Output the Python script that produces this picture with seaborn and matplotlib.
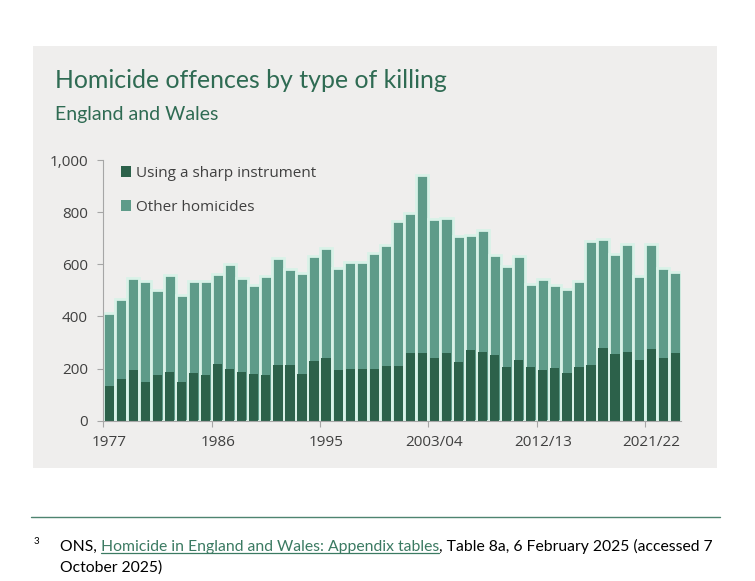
import matplotlib
matplotlib.use("Agg")
import matplotlib.pyplot as plt
from matplotlib.patches import Rectangle
from matplotlib.lines import Line2D
from matplotlib.ticker import FuncFormatter, FixedLocator
import seaborn as sns
import pandas as pd

years = ["1977", "1978", "1979", "1980", "1981", "1982", "1983", "1984", "1985",
         "1986", "1987", "1988", "1989", "1990", "1991", "1992", "1993", "1994",
         "1995", "1996", "1997", "1997/98", "1998/99", "1999/00", "2000/01",
         "2001/02", "2002/03", "2003/04", "2004/05", "2005/06", "2006/07",
         "2007/08", "2008/09", "2009/10", "2010/11", "2011/12", "2012/13",
         "2013/14", "2014/15", "2015/16", "2016/17", "2017/18", "2018/19",
         "2019/20", "2020/21", "2021/22", "2022/23", "2023/24"]
sharp = [133, 160, 193, 148, 175, 188, 148, 184, 177, 218, 198, 187, 179, 175,
         214, 215, 179, 230, 241, 195, 198, 198, 198, 210, 210, 260, 260, 241,
         260, 224, 270, 265, 252, 206, 233, 206, 193, 201, 183, 206, 214, 279,
         256, 264, 233, 275, 241, 260]
other = [280, 307, 356, 388, 325, 370, 334, 353, 359, 345, 402, 361, 343, 380,
         410, 366, 387, 403, 422, 392, 411, 411, 444, 463, 555, 535, 683, 532,
         519, 485, 441, 466, 385, 386, 399, 319, 350, 319, 321, 331, 476, 418,
         385, 412, 322, 401, 344, 311]
tick_labels = ["1977", "1986", "1995", "2003/04", "2012/13", "2021/22"]
series_names = ["Using a sharp instrument", "Other homicides"]

DARK = "#2c614a"
LIGHT = "#5e9b89"
MINT = "#d9f2e8"
PANEL = "#efeeed"
GREEN_TXT = "#2f6b53"
GREY_TXT = "#404040"
AXIS_GREY = "#a6a6a6"

sns.set_style("white")
plt.rcParams["font.family"] = ["Open Sans", "DejaVu Sans"]

df = pd.DataFrame({"year": years, "sharp": sharp, "other": other})
df["total"] = df["sharp"] + df["other"]

W, H = 755, 581
fig = plt.figure(figsize=(W / 100, H / 100), dpi=100)
fig.patch.set_facecolor("white")

# grey panel (behind everything)
fig.patches.append(Rectangle((33 / W, 1 - 468 / H), 684 / W, 422 / H,
                             transform=fig.transFigure, facecolor=PANEL,
                             edgecolor="none", zorder=-10))

ax = fig.add_axes([103.3 / W, 1 - 420.7 / H, 578 / W, 260.7 / H])
ax.set_facecolor("none")
ax.set_zorder(1)

sns.barplot(data=df, x="year", y="total", color=LIGHT, saturation=1,
            width=1.0, edgecolor=MINT, linewidth=2.0, ax=ax,
            label=series_names[1], order=years)
sns.barplot(data=df, x="year", y="sharp", color=DARK, saturation=1,
            width=0.765, linewidth=0, ax=ax,
            label=series_names[0], order=years)

ax.set_xlim(-0.5, len(years) - 0.5)
ax.set_ylim(0, 1000)
ax.set_xlabel("")
ax.set_ylabel("")

# y axis
ax.set_yticks([0, 200, 400, 600, 800, 1000])
ax.yaxis.set_major_formatter(FuncFormatter(lambda v, p: f"{int(v):,}"))
ax.tick_params(axis="y", direction="out", length=4, width=0.8,
               color=AXIS_GREY, labelcolor=GREY_TXT, labelsize=11, pad=7,
               left=True)

# x axis: ticks at boundaries, labels centred on bars
idx = [years.index(t) for t in tick_labels]
ax.xaxis.set_major_locator(FixedLocator([i - 0.5 for i in idx]))
ax.xaxis.set_major_formatter(FuncFormatter(lambda v, p: ""))
ax.xaxis.set_minor_locator(FixedLocator(idx))
ax.set_xticklabels(tick_labels, minor=True)
ax.tick_params(axis="x", which="major", direction="out", length=4, width=0.8,
               color=AXIS_GREY, bottom=True)
ax.tick_params(axis="x", which="minor", length=0, labelsize=11,
               labelcolor=GREY_TXT, pad=10)

for s in ["top", "right"]:
    ax.spines[s].set_visible(False)
for s in ["left", "bottom"]:
    ax.spines[s].set_color(AXIS_GREY)
    ax.spines[s].set_linewidth(0.8)

handles, labels = ax.get_legend_handles_labels()
order = [labels.index(series_names[0]), labels.index(series_names[1])]
leg = ax.legend([handles[i] for i in order], [labels[i] for i in order],
                loc="upper left", bbox_to_anchor=(0.03, 0.978), frameon=False,
                handlelength=0.68, handleheight=0.68, handletextpad=0.3,
                labelspacing=1.25, fontsize=11, labelcolor=GREY_TXT,
                borderaxespad=0, borderpad=0)
for h in leg.legend_handles:
    h.set_edgecolor("none")
    h.set_linewidth(0)

# titles
TF = ["Lato", "DejaVu Sans"]
fig.text(55 / W, 1 - 88 / H, "Homicide offences by type of killing",
         family=TF, fontsize=17.9, color=GREEN_TXT, va="baseline", ha="left")
fig.text(55 / W, 1 - 120 / H, "England and Wales",
         family=TF, fontsize=14, color=GREEN_TXT, va="baseline", ha="left")

# footer rule
fig.add_artist(Line2D([31 / W, 720 / W], [1 - 517.3 / H, 1 - 517.3 / H],
                      transform=fig.transFigure, color="#4e8470", lw=1.0))

# footnote
FN = ["Lato", "DejaVu Sans"]
FS = 11.3
fig.text(34 / W, 1 - 544 / H, "3", family=FN, fontsize=7, color="black",
         va="baseline")
fig.canvas.draw()
r = fig.canvas.get_renderer()
y1 = 1 - 550.7 / H
t1 = fig.text(60 / W, y1, "ONS, ", family=FN, fontsize=FS, color="black",
              va="baseline")
bb1 = t1.get_window_extent(r)
t2 = fig.text(bb1.x1 / W, y1, "Homicide in England and Wales: Appendix tables",
              family=FN, fontsize=FS, color="#3b7a62", va="baseline")
bb2 = t2.get_window_extent(r)
fig.add_artist(Line2D([bb2.x0 / W, bb2.x1 / W], [1 - 552.5 / H, 1 - 552.5 / H],
                      transform=fig.transFigure, color="#3b7a62", lw=0.9))
fig.text(bb2.x1 / W, y1,
         ", Table 8a, 6 February 2025 (accessed 7",
         family=FN, fontsize=FS, color="black", va="baseline")
fig.text(60 / W, 1 - 571.7 / H, "October 2025)", family=FN, fontsize=FS,
         color="black", va="baseline")

fig.savefig("out.png", dpi=100, facecolor="white")
